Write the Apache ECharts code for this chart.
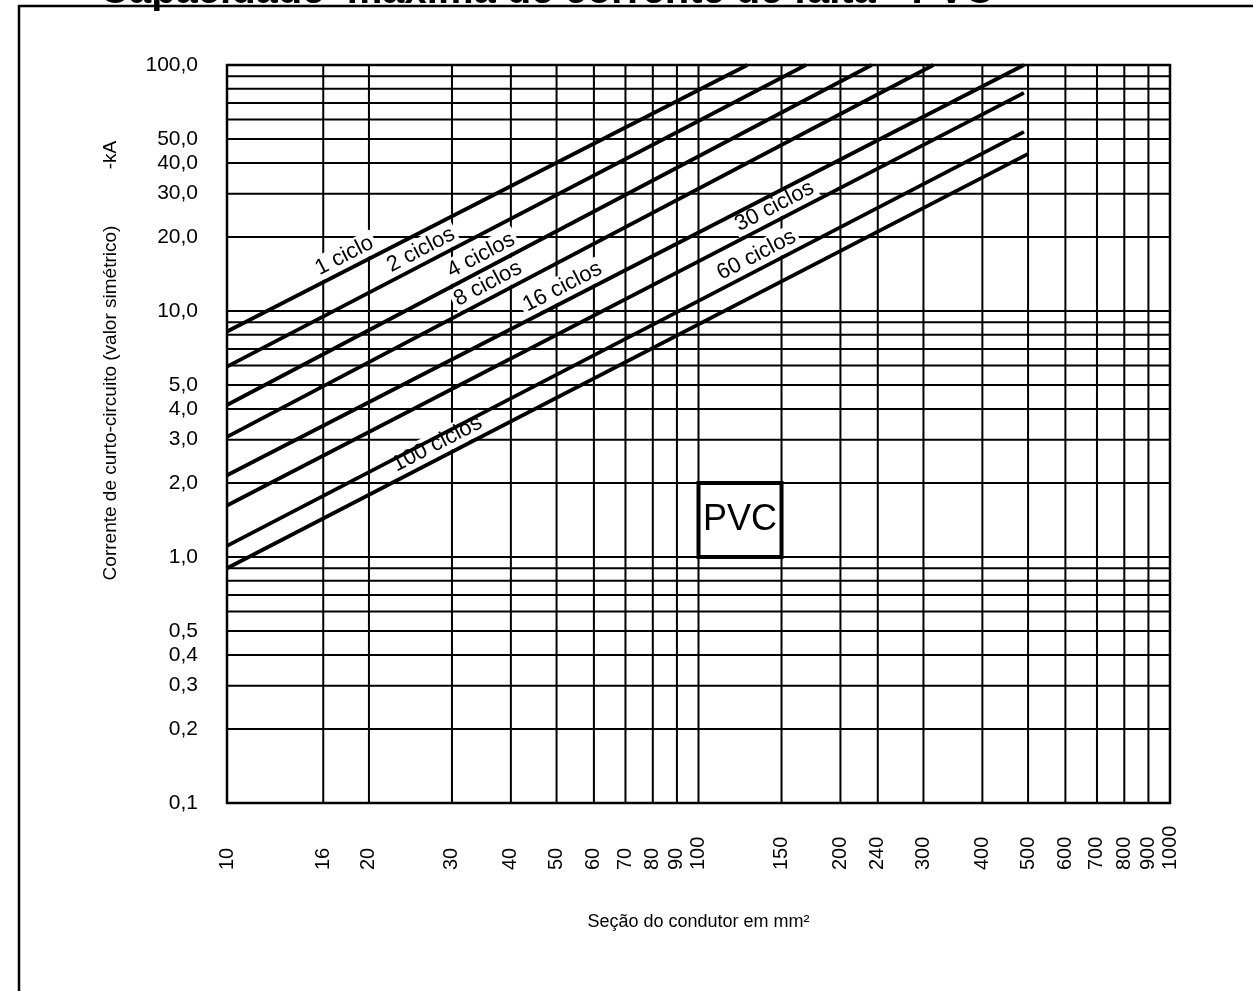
<!DOCTYPE html>
<html><head><meta charset="utf-8">
<script src="https://cdn.jsdelivr.net/npm/echarts@6/dist/echarts.min.js"></script>
<style>html,body{margin:0;padding:0;background:#fff}#c{width:1253px;height:991px}</style>
</head><body><div id="c"></div>
<script>
// ---- data ----
const titleText = 'Capacidade  máxima de corrente de falta - PVC';
const xName = 'Seção do condutor em mm²';
const yName = 'Corrente de curto-circuito (valor simétrico)';
const yUnit = '-kA';
const curveNames = ['1 ciclo','2 ciclos','4 ciclos','8 ciclos','16 ciclos','30 ciclos','60 ciclos','100 ciclos'];
const curveStart = [[10,8.25],[10,5.94],[10,4.15],[10,3.08],[10,2.15],[10,1.62],[10,1.11],[10,0.90]];
const curveEnd   = [[127,100],[169,100],[233,100],[315,100],[490,100],[490,77],[490,53.5],[500,43.5]];
const labelAtX   = [18.3,26.6,35.7,36.9,53.1,149.6,137,28.8];
const xTicks = [10,16,20,30,40,50,60,70,80,90,100,150,200,240,300,400,500,600,700,800,900,1000];
const yGrid = [0.1,0.2,0.3,0.4,0.5,0.6,0.7,0.8,0.9,1,2,3,4,5,6,7,8,9,10,20,30,40,50,60,70,80,90,100];
const yLabelValues = [0.1,0.2,0.3,0.4,0.5,1,2,3,4,5,10,20,30,40,50,100];
const pvcBox = [[100,1,150,2]];
const pvcText = 'PVC';
const xMin = 10, xMax = 1000, yMin = 0.1, yMax = 100;

// ---- helpers ----
const FONT = '"Liberation Sans", Arial, Helvetica, sans-serif';
function onCurve(i, x) {
  const [x0,y0] = curveStart[i], [x1,y1] = curveEnd[i];
  const t = (Math.log10(x)-Math.log10(x0))/(Math.log10(x1)-Math.log10(x0));
  return Math.pow(10, Math.log10(y0) + t*(Math.log10(y1)-Math.log10(y0)));
}
const fmtY = v => v.toFixed(1).replace('.', ',');

const chart = echarts.init(document.getElementById('c'), null, {renderer:'canvas'});

const series = [];
// vertical grid lines + x tick labels
series.push({
  type:'custom', coordinateSystem:'cartesian2d', silent:true, z:1, clip:false,
  data: xTicks.map(v => [v, yMin]),
  renderItem: (params, api) => {
    const v = api.value(0);
    const p1 = api.coord([v, yMin]), p2 = api.coord([v, yMax]);
    const edge = (v === xMin || v === xMax);
    return {type:'group', children:[
      {type:'line', shape:{x1:p1[0],y1:p1[1]+1,x2:p2[0],y2:p2[1]-1}, style:{stroke:'#000', lineWidth: edge?2.5:2}},
      {type:'text', x:p1[0], y:p1[1]+67, rotation:Math.PI/2,
       style:{text:String(v), font:'20px '+FONT, fill:'#000', align:'left', verticalAlign:'middle'}}
    ]};
  }
});
// horizontal grid lines + y tick labels
series.push({
  type:'custom', coordinateSystem:'cartesian2d', silent:true, z:1, clip:false,
  data: yGrid.map(v => [xMin, v]),
  renderItem: (params, api) => {
    const v = api.value(1);
    const p1 = api.coord([xMin, v]), p2 = api.coord([xMax, v]);
    const edge = (v === yMin || v === yMax);
    const ch = [{type:'line', shape:{x1:p1[0]-1,y1:p1[1],x2:p2[0]+1,y2:p2[1]}, style:{stroke:'#000', lineWidth: edge?2.5:2}}];
    if (yLabelValues.indexOf(v) >= 0) {
      ch.push({type:'text', x:p1[0]-29, y:p1[1],
        style:{text:fmtY(v), font:'21px '+FONT, fill:'#000', align:'right', verticalAlign:'middle'}});
    }
    return {type:'group', children:ch};
  }
});
// PVC box
series.push({
  type:'custom', coordinateSystem:'cartesian2d', silent:true, z:4, clip:false,
  data: pvcBox,
  renderItem: (params, api) => {
    const a = api.coord([api.value(0), api.value(1)]);
    const b = api.coord([api.value(2), api.value(3)]);
    return {type:'group', children:[
      {type:'rect', shape:{x:a[0], y:b[1], width:b[0]-a[0], height:a[1]-b[1]},
       style:{fill:'#fff', stroke:'#000', lineWidth:4}},
      {type:'text', x:(a[0]+b[0])/2, y:(a[1]+b[1])/2,
       style:{text:pvcText, font:'36px '+FONT, fill:'#000', align:'center', verticalAlign:'middle'}}
    ]};
  }
});
// curve labels
series.push({
  type:'custom', coordinateSystem:'cartesian2d', silent:true, z:3, clip:false,
  data: labelAtX.map((x,i) => [x, onCurve(i, x)]),
  renderItem: (params, api) => {
    const i = params.dataIndex;
    const a = api.coord(curveStart[i]), b = api.coord(curveEnd[i]);
    const ang = Math.atan2(b[1]-a[1], b[0]-a[0]);
    const p = api.coord([api.value(0), api.value(1)]);
    const nx = Math.sin(ang), ny = -Math.cos(ang), g = 14;
    return {type:'text', x:p[0]+nx*g, y:p[1]+ny*g, rotation:-ang,
      style:{text:curveNames[i], font:'22px '+FONT, fill:'#000', align:'center', verticalAlign:'middle',
             backgroundColor:'#fff', padding:[1,3]}};
  }
});
// curves
curveNames.forEach((n,i) => {
  series.push({type:'line', name:n, z:5, silent:true, symbol:'none', animation:false,
    data:[curveStart[i], curveEnd[i]], lineStyle:{color:'#000', width:3.8}});
});

chart.setOption({
  animation:false,
  backgroundColor:'#fff',
  grid:{left:227, right:83, top:65, bottom:188, containLabel:false},
  xAxis:{type:'log', logBase:10, min:xMin, max:xMax,
    name:xName, nameLocation:'middle', nameGap:110,
    nameTextStyle:{fontFamily:FONT, fontSize:18, color:'#000'},
    axisLine:{show:false}, axisTick:{show:false}, axisLabel:{show:false}, splitLine:{show:false}},
  yAxis:{type:'log', logBase:10, min:yMin, max:yMax,
    axisLine:{show:false}, axisTick:{show:false}, axisLabel:{show:false}, splitLine:{show:false}},
  graphic:[
    {type:'polyline', shape:{points:[[19,991],[19,6],[1253,6]]}, style:{stroke:'#000', lineWidth:2.5, fill:null}, z:0},
    {type:'text', x:100, y:12, style:{text:titleText, font:'bold 40px '+FONT, fill:'#000', verticalAlign:'bottom'}, z:10},
    {type:'text', x:111, y:403, rotation:Math.PI/2, style:{text:yName, font:'19px '+FONT, fill:'#000', align:'center', verticalAlign:'middle'}},
    {type:'text', x:111, y:155, rotation:Math.PI/2, style:{text:yUnit, font:'19px '+FONT, fill:'#000', align:'center', verticalAlign:'middle'}}
  ],
  series
});
</script></body></html>
